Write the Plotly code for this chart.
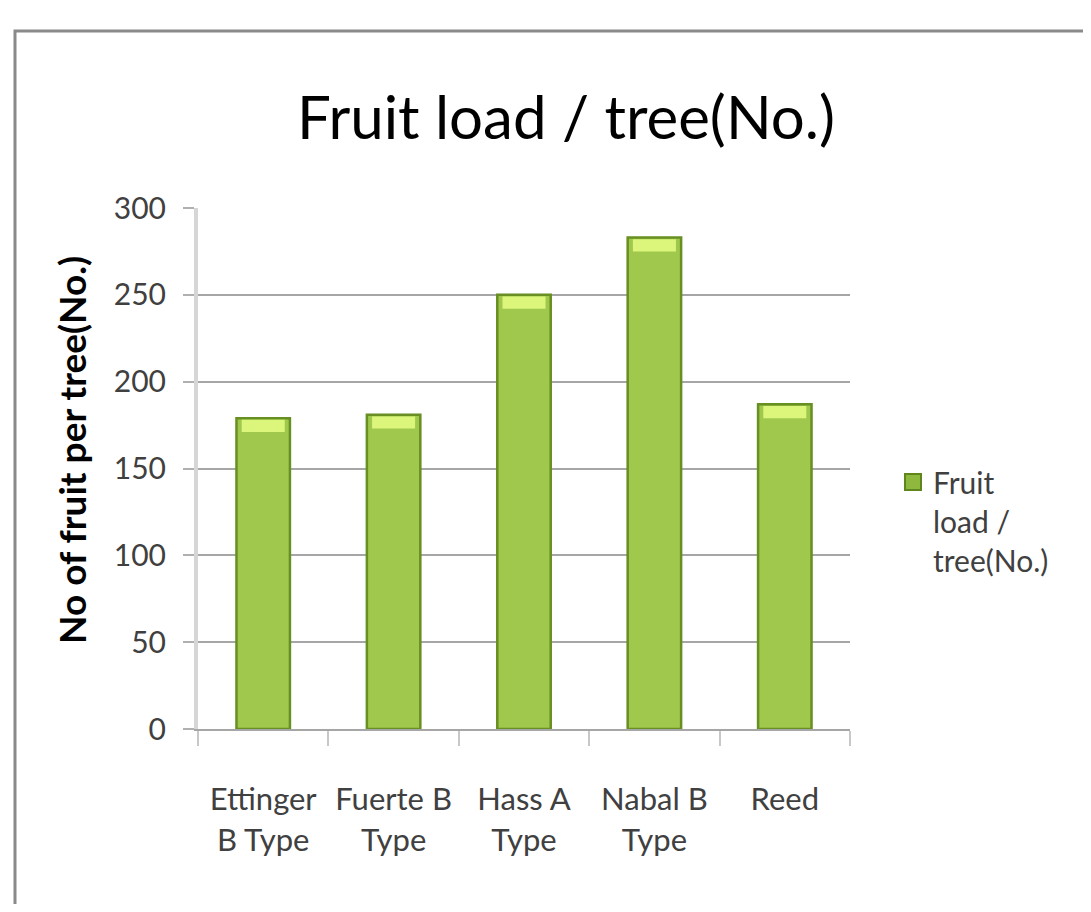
import plotly.graph_objects as go

categories = ["Ettinger<br>B Type", "Fuerte B<br>Type", "Hass A<br>Type", "Nabal B<br>Type", "Reed"]
fruit_load = [179, 181, 250, 283, 187]
series_name = "Fruit<br>load /<br>tree(No.)"
y_ticks = [0, 50, 100, 150, 200, 250, 300]

OFF = 8  # page body margin
W, H = 1091 - 2 * OFF, 912 - 2 * OFF
L, T = 198 - OFF, 208 - OFF
R, B = W - (850 - OFF), H - (729 - OFF)
pw, ph = W - L - R, H - T - B

def px_x(p):  # page pixel -> paper x
    return (p - OFF - L) / pw

def px_y(p):  # page pixel -> paper y
    return (H - B - (p - OFF)) / ph

FONT = "Lato, 'Liberation Sans', sans-serif"
BAR_FILL = "#9fc84d"
BAR_EDGE = "#678f22"

fig = go.Figure()
fig.add_trace(go.Bar(
    x=categories, y=fruit_load, name=series_name, width=0.41, showlegend=False,
    marker=dict(color=BAR_FILL, line=dict(color=BAR_EDGE, width=2.5)),
))
# highlight cap on each bar (derived from the values)
cap = 7
fig.add_trace(go.Bar(
    x=categories, y=[cap] * len(fruit_load), base=[v - cap - 1 for v in fruit_load],
    width=0.33, showlegend=False, hoverinfo="skip",
    marker=dict(color="#dcf67c", line=dict(width=0)),
))
# legend entry with a larger square key
fig.add_trace(go.Scatter(
    x=[None], y=[None], mode="markers", name=series_name, hoverinfo="skip",
    marker=dict(symbol="square", size=16, color="#8fb83f", line=dict(color="#5f861d", width=2)),
))

fig.update_layout(
    width=W, height=H, barmode="overlay",
    margin=dict(l=L, r=R, t=T, b=B, autoexpand=False),
    paper_bgcolor="white", plot_bgcolor="white",
    font=dict(family=FONT, color="#404040", size=30),
    title=dict(text="Fruit load / tree(No.)", x=(566 - OFF) / W, xanchor="center", xref="container",
               y=1 - (118 - OFF) / H, yanchor="middle", yref="container",
               font=dict(family=FONT, size=60, color="black")),
    showlegend=True,
    legend=dict(x=px_x(893), y=px_y(456), xanchor="left", yanchor="top", valign="top",
                font=dict(family=FONT, size=30, color="#404040"), itemsizing="trace",
                bgcolor="rgba(0,0,0,0)", itemwidth=30, tracegroupgap=0),
    xaxis=dict(
        type="category", showgrid=False, showline=True, linecolor="#a6a6a6", linewidth=2,
        ticks="outside", tickson="boundaries", ticklen=15, tickcolor="#c8c8c8", tickwidth=2,
        tickangle=0, automargin=False,
        ticklabelstandoff=42, tickfont=dict(family=FONT, size=31, color="#404040"),
        range=[-0.5, 4.5],
    ),
    yaxis=dict(
        range=[0, 300], tickvals=y_ticks, showgrid=True, gridcolor="#a6a6a6", gridwidth=2,
        showline=True, linecolor="#d6d6d6", linewidth=4, zeroline=False, automargin=False,
        ticks="outside", ticklen=11, tickcolor="#b0b0b0", tickwidth=2,
        ticklabelstandoff=11, tickfont=dict(family=FONT, size=30, color="#404040"),
    ),
    annotations=[dict(
        text="<b>No of fruit per tree(No.)</b>", textangle=-90,
        xref="paper", yref="paper", x=px_x(71), y=px_y(450),
        xanchor="center", yanchor="middle", showarrow=False,
        font=dict(family=FONT, size=37, color="black"),
    )],
    shapes=[dict(
        type="rect", xref="paper", yref="paper",
        x0=px_x(15), x1=px_x(1130), y0=px_y(950), y1=px_y(31),
        line=dict(color="#8a8a8a", width=3), fillcolor="rgba(0,0,0,0)", layer="below",
    )],
)

fig.write_html("out.html")
